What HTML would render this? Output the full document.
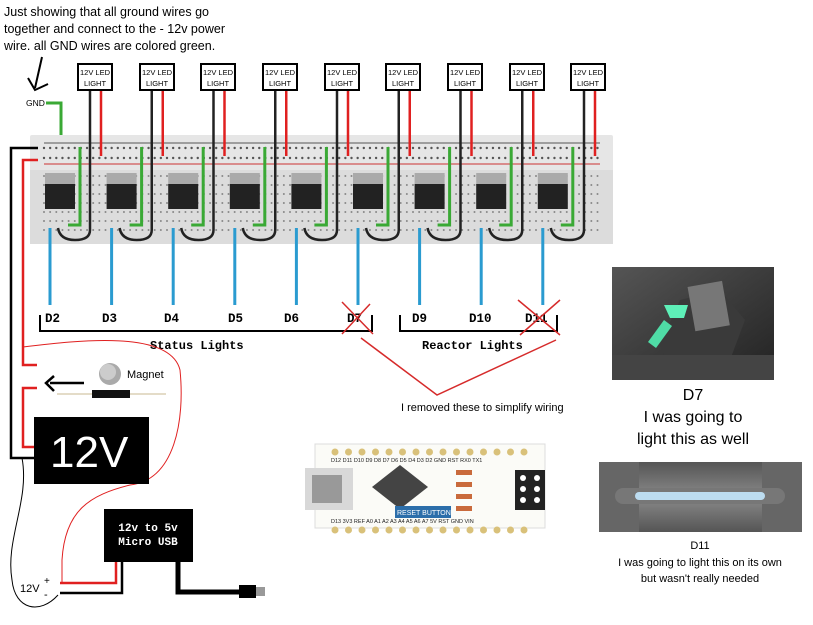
<!DOCTYPE html>
<html><head><meta charset="utf-8"><style>
html,body{margin:0;padding:0;background:#fff;width:813px;height:625px;overflow:hidden}
svg{display:block}
.s{font-family:"Liberation Sans",sans-serif}
.m{font-family:"Liberation Mono",monospace;font-weight:bold}
</style></head><body>
<svg id="sv" width="813" height="625" viewBox="0 0 813 625" xmlns="http://www.w3.org/2000/svg">
<text class="s" font-size="12.5" fill="#000"><tspan x="4" y="16">Just showing that all ground wires go</tspan><tspan x="4" y="33">together and connect to the - 12v power</tspan><tspan x="4" y="50">wire. all GND wires are colored green.</tspan></text>
<path d="M42 57 L35 88 M28 78 L35 90 L48 84" stroke="#000" stroke-width="2" fill="none"/>
<text class="s" x="26" y="106" font-size="8.5">GND</text>
<path d="M46 103 H61 V147" stroke="#3aa935" stroke-width="3" fill="none"/>
<rect x="30" y="135" width="583" height="109" fill="#e6e6e6" rx="2"/>
<rect x="30" y="170" width="583" height="74" fill="#dcdcdc"/>
<line x1="44" y1="143" x2="600" y2="143" stroke="#555" stroke-width="1"/>
<line x1="44" y1="164" x2="600" y2="164" stroke="#c33" stroke-width="1"/>
<g id="dyn"></g>
<g class="s" font-size="7.5" text-anchor="middle">
<rect x="78" y="64" width="34" height="26" fill="#fff" stroke="#000" stroke-width="2"/><text x="95" y="75">12V LED</text><text x="95" y="86">LIGHT</text>
<rect x="140" y="64" width="34" height="26" fill="#fff" stroke="#000" stroke-width="2"/><text x="157" y="75">12V LED</text><text x="157" y="86">LIGHT</text>
<rect x="201" y="64" width="34" height="26" fill="#fff" stroke="#000" stroke-width="2"/><text x="218" y="75">12V LED</text><text x="218" y="86">LIGHT</text>
<rect x="263" y="64" width="34" height="26" fill="#fff" stroke="#000" stroke-width="2"/><text x="280" y="75">12V LED</text><text x="280" y="86">LIGHT</text>
<rect x="325" y="64" width="34" height="26" fill="#fff" stroke="#000" stroke-width="2"/><text x="342" y="75">12V LED</text><text x="342" y="86">LIGHT</text>
<rect x="386" y="64" width="34" height="26" fill="#fff" stroke="#000" stroke-width="2"/><text x="403" y="75">12V LED</text><text x="403" y="86">LIGHT</text>
<rect x="448" y="64" width="34" height="26" fill="#fff" stroke="#000" stroke-width="2"/><text x="465" y="75">12V LED</text><text x="465" y="86">LIGHT</text>
<rect x="510" y="64" width="34" height="26" fill="#fff" stroke="#000" stroke-width="2"/><text x="527" y="75">12V LED</text><text x="527" y="86">LIGHT</text>
<rect x="571" y="64" width="34" height="26" fill="#fff" stroke="#000" stroke-width="2"/><text x="588" y="75">12V LED</text><text x="588" y="86">LIGHT</text>
</g>
<g class="m" font-size="12.5">
<text x="45" y="322">D2</text><text x="102" y="322">D3</text><text x="164" y="322">D4</text><text x="228" y="322">D5</text><text x="284" y="322">D6</text><text x="347" y="322">D7</text><text x="412" y="322">D9</text><text x="469" y="322">D10</text><text x="525" y="322">D11</text>
<text x="150" y="349" font-size="12">Status Lights</text><text x="422" y="349" font-size="12">Reactor Lights</text>
</g>
<path d="M40 315 V331 H372 V315 M400 315 V331 H557 V315" stroke="#000" stroke-width="2" fill="none"/>
<path d="M342 302 L373 334 M370 304 L342 334 M518 300 L560 335 M560 300 L520 335 M361 338 L437 395 L556 340" stroke="#d62b2b" stroke-width="1.5" fill="none"/>
<text class="s" x="401" y="411" font-size="11">I removed these to simplify wiring</text>
<path d="M38 148 H11 V458 H34" stroke="#000" stroke-width="2.5" fill="none"/>
<path d="M38 160 H23 V365 H37 M37 388 H23 V447 H34" stroke="#e02020" stroke-width="2.5" fill="none"/>
<path d="M23 347 C80 340 170 330 180 370 C185 420 175 480 130 485 C90 495 65 510 62 560 V582" stroke="#e02020" stroke-width="1" fill="none"/>
<path d="M22 458 C30 500 5 540 12 580 C15 610 40 615 58 595" stroke="#000" stroke-width="1" fill="none"/>
<path d="M50 383 H84 M54 376 L46 383 L54 391" stroke="#000" stroke-width="2.5" fill="none"/>
<circle cx="110" cy="374" r="11" fill="#aaa"/><circle cx="108" cy="372" r="8" fill="#ccc"/>
<text class="s" x="127" y="378" font-size="11">Magnet</text>
<line x1="57" y1="394" x2="166" y2="394" stroke="#c8b890" stroke-width="1"/>
<rect x="92" y="390" width="38" height="8" fill="#111"/>
<rect x="34" y="417" width="115" height="67" fill="#000"/>
<text class="s" x="50" y="467" font-size="44" fill="#fff">12V</text>
<rect x="104" y="509" width="89" height="53" fill="#000"/>
<text class="m" x="148" y="531" font-size="11" fill="#fff" text-anchor="middle">12v to 5v</text>
<text class="m" x="148" y="545" font-size="11" fill="#fff" text-anchor="middle">Micro USB</text>
<path d="M116 562 V583 H60" stroke="#e02020" stroke-width="2.5" fill="none"/>
<path d="M122 562 V593 H60" stroke="#000" stroke-width="2.5" fill="none"/>
<path d="M178 562 V592 H240" stroke="#000" stroke-width="5" fill="none"/>
<rect x="239" y="585" width="17" height="13" fill="#000"/><rect x="256" y="587" width="9" height="9" fill="#999"/>
<text class="s" x="20" y="592" font-size="11">12V</text><text class="s" x="44" y="584" font-size="10">+</text><text class="s" x="44" y="598" font-size="11">-</text>
<rect x="315" y="444" width="230" height="84" fill="#fbfbf7" stroke="#ddd"/>
<rect x="305" y="468" width="48" height="42" fill="#d8d8d8"/>
<rect x="312" y="475" width="30" height="28" fill="#999"/>
<polygon points="400,465 428,487 400,509 372,487" fill="#444"/>
<rect x="395" y="506" width="56" height="12" fill="#2c6eaa"/>
<text class="s" x="397" y="515" font-size="7" fill="#fff">RESET BUTTON</text>
<rect x="515" y="470" width="30" height="40" fill="#222"/>
<g id="ard"></g>
<text class="s" font-size="5.5" fill="#222"><tspan x="331" y="462">D12 D11 D10 D9  D8  D7  D6  D5  D4  D3  D2 GND RST RX0 TX1</tspan><tspan x="331" y="523">D13 3V3 REF A0  A1  A2  A3  A4  A5  A6  A7  5V  RST GND VIN</tspan></text>
<defs>
<linearGradient id="g1" x1="0" x2="1" y1="0" y2="1"><stop offset="0" stop-color="#555"/><stop offset="1" stop-color="#222"/></linearGradient>
<linearGradient id="g2" x1="0" x2="0" y1="0" y2="1"><stop offset="0" stop-color="#555"/><stop offset=".5" stop-color="#8a8a8a"/><stop offset="1" stop-color="#555"/></linearGradient>
</defs>
<rect x="612" y="267" width="162" height="113" fill="url(#g1)"/>
<polygon points="660,345 680,300 720,290 745,320 730,360 670,370" fill="#3a3a3a"/>
<rect x="690" y="285" width="35" height="45" fill="#777" transform="rotate(-10 700 300)"/>
<polygon points="664,305 688,305 684,318 670,318" fill="#5ef0b8"/>
<polygon points="648,342 664,320 672,326 656,348" fill="#4fdca6"/>
<rect x="612" y="355" width="162" height="25" fill="#444"/>
<text class="s" x="693" y="400" font-size="16" text-anchor="middle">D7</text>
<text class="s" x="693" y="422" font-size="16" text-anchor="middle">I was going to</text>
<text class="s" x="693" y="444" font-size="16" text-anchor="middle">light this as well</text>
<rect x="599" y="462" width="203" height="70" fill="url(#g2)"/>
<rect x="599" y="462" width="40" height="70" fill="#666"/><rect x="762" y="462" width="40" height="70" fill="#666"/>
<rect x="615" y="488" width="170" height="16" rx="8" fill="#777"/>
<rect x="635" y="492" width="130" height="8" rx="4" fill="#bcdcf0"/>
<text class="s" x="700" y="549" font-size="11" text-anchor="middle">D11</text>
<text class="s" x="700" y="566" font-size="11" text-anchor="middle">I was going to light this on its own</text>
<text class="s" x="700" y="582" font-size="11" text-anchor="middle">but wasn't really needed</text>
</svg>
<script>
var d=document.getElementById("dyn"),h="";
for(var x=44;x<600;x+=6.15){h+='<circle cx="'+x+'" cy="148" r="1.2" fill="#555"/><circle cx="'+x+'" cy="158" r="1.2" fill="#555"/>';}
for(var x=44;x<600;x+=6.15){for(var y=176;y<236;y+=9)h+='<circle cx="'+x+'" cy="'+y+'" r="1" fill="#888"/>';}
for(var i=0;i<9;i++){var c=60+i*61.6,l=95+i*61.75;
h+='<rect x="'+(c-15)+'" y="173" width="30" height="12" fill="#aaa"/><rect x="'+(c-15)+'" y="184" width="30" height="25" fill="#222"/>';
h+='<path d="M'+(c+20)+' 147 V225 H'+(c+8)+'" stroke="#3aa935" stroke-width="3" fill="none"/>';
h+='<path d="M'+(l-5)+' 90 V230 Q'+(l-5)+' 240 '+(l-20)+' 240 Q'+(c)+' 240 '+(c-2)+' 228" stroke="#222" stroke-width="2.5" fill="none"/>';
h+='<path d="M'+(l+6)+' 90 V156" stroke="#e02020" stroke-width="2.5" fill="none"/>';
h+='<path d="M'+(c-10)+' 228 V305" stroke="#2a9bd0" stroke-width="3" fill="none"/>';}
d.innerHTML=h;
var a="";for(var k=0;k<15;k++){a+='<circle cx="'+(335+k*13.5)+'" cy="452" r="3.5" fill="#d9c17a"/><circle cx="'+(335+k*13.5)+'" cy="530" r="3.5" fill="#d9c17a"/>';}
for(var r=0;r<3;r++){a+='<circle cx="523" cy="'+(478+r*11)+'" r="3" fill="#fff"/><circle cx="537" cy="'+(478+r*11)+'" r="3" fill="#fff"/>';}
for(var r=0;r<4;r++)a+='<rect x="456" y="'+(470+r*12)+'" width="16" height="5" fill="#c96a3c"/>';
document.getElementById("ard").innerHTML=a;
</script>
</body></html>
